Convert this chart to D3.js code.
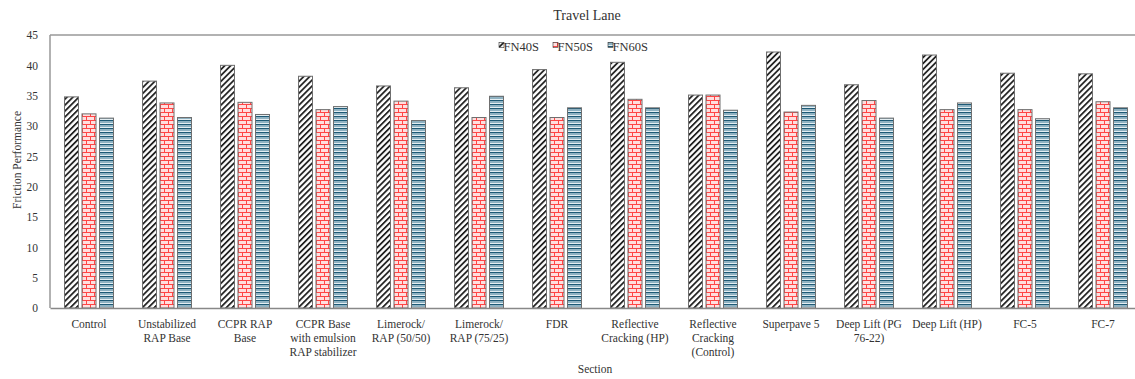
<!DOCTYPE html>
<html><head><meta charset="utf-8">
<script src="https://cdn.jsdelivr.net/npm/d3@7"></script>
<style>
html,body{margin:0;padding:0;background:#fff;overflow:hidden}
text{font-family:"Liberation Serif","Times New Roman",serif;fill:#333}
</style></head><body>
<svg id="chart" width="1135" height="379"></svg>
<script>
const categories = ["Control","Unstabilized RAP Base","CCPR RAP Base","CCPR Base with emulsion RAP stabilizer","Limerock/ RAP (50/50)","Limerock/ RAP (75/25)","FDR","Reflective Cracking (HP)","Reflective Cracking (Control)","Superpave 5","Deep Lift (PG 76-22)","Deep Lift (HP)","FC-5","FC-7"];
const categoryLines = [["Control"],["Unstabilized","RAP Base"],["CCPR RAP","Base"],["CCPR Base","with emulsion","RAP stabilizer"],["Limerock/","RAP (50/50)"],["Limerock/","RAP (75/25)"],["FDR"],["Reflective","Cracking (HP)"],["Reflective","Cracking","(Control)"],["Superpave 5"],["Deep Lift (PG","76-22)"],["Deep Lift (HP)"],["FC-5"],["FC-7"]];
const seriesNames = ["FN40S","FN50S","FN60S"];
const FN40S = [34.8,37.4,40.0,38.2,36.6,36.3,39.3,40.5,35.1,42.2,36.8,41.7,38.7,38.6];
const FN50S = [32.0,33.8,33.9,32.7,34.1,31.4,31.4,34.4,35.1,32.3,34.2,32.7,32.7,34.0];
const FN60S = [31.3,31.4,31.9,33.2,30.9,34.9,33.0,33.0,32.6,33.4,31.3,33.8,31.2,33.0];
const yTicks = [0,5,10,15,20,25,30,35,40,45];
const seriesValues = [FN40S, FN50S, FN60S];

const svg = d3.select("#chart");
const mLeft = 50, mRight = 1142, mTop = 35, mBottom = 308;

const defs = svg.append("defs");
// FN40S diagonal hatch
const p1 = defs.append("pattern").attr("id","pat0").attr("patternUnits","userSpaceOnUse")
  .attr("width",4.2).attr("height",4.2).attr("patternTransform","rotate(45)");
p1.append("rect").attr("width",4.2).attr("height",4.2).attr("fill","#fff");
p1.append("rect").attr("x",0).attr("y",0).attr("width",1.8).attr("height",4.2).attr("fill","#222");
// FN50S brick
const p2 = defs.append("pattern").attr("id","pat1").attr("patternUnits","userSpaceOnUse")
  .attr("width",8).attr("height",8);
p2.append("rect").attr("width",8).attr("height",8).attr("fill","#ffdede");
p2.append("rect").attr("x",0).attr("y",0).attr("width",8).attr("height",1).attr("fill","#ff4545");
p2.append("rect").attr("x",0).attr("y",4).attr("width",8).attr("height",1).attr("fill","#ff4545");
p2.append("rect").attr("x",0).attr("y",0).attr("width",1).attr("height",4).attr("fill","#ff4545");
p2.append("rect").attr("x",4).attr("y",4).attr("width",1).attr("height",4).attr("fill","#ff4545");
// FN60S horizontal stripes
const p3 = defs.append("pattern").attr("id","pat2").attr("patternUnits","userSpaceOnUse")
  .attr("width",4).attr("height",4);
p3.append("rect").attr("width",4).attr("height",4).attr("fill","#e4eef2");
p3.append("rect").attr("y",0).attr("width",4).attr("height",1).attr("fill","#1d5975");
p3.append("rect").attr("y",1).attr("width",4).attr("height",2).attr("fill","#8fb2c2");

const x0 = d3.scaleBand().domain(categories).range([mLeft,mRight]);
const x1 = d3.scaleBand().domain(seriesNames).range([14.5, 63.5]).paddingInner(0.2);
const y = d3.scaleLinear().domain([0,45]).range([mBottom, mTop]);

// frame
svg.append("line").attr("x1",mLeft).attr("x2",mRight).attr("y1",mTop).attr("y2",mTop).attr("stroke","#999").attr("stroke-width",1.5);
svg.append("line").attr("x1",mLeft).attr("x2",mLeft).attr("y1",mTop).attr("y2",mBottom).attr("stroke","#999").attr("stroke-width",1.5);

// y axis
const yAxis = d3.axisLeft(y).tickValues(yTicks).tickSize(0).tickPadding(12);
const ga = svg.append("g").attr("transform",`translate(${mLeft},0)`).call(yAxis);
ga.select(".domain").remove();
ga.selectAll("text").style("font-family","'Liberation Serif',serif").style("font-size","11.5px").attr("fill","#444");

// bars
const groups = svg.append("g").selectAll("g").data(categories).join("g")
  .attr("transform", d => `translate(${x0(d)},0)`);
groups.selectAll("rect").data((d,i) => seriesNames.map((s,j) => ({s, j, v: seriesValues[j][i]})))
  .join("rect")
  .attr("x", d => x1(d.s)).attr("width", x1.bandwidth())
  .attr("y", d => y(d.v)).attr("height", d => y(0) - y(d.v))
  .attr("fill", d => `url(#pat${d.j})`)
  .attr("stroke", "#6f6f6f").attr("stroke-width", 1);

// x axis
const xAxis = d3.axisBottom(x0).tickSize(0).tickFormat("");
const gx = svg.append("g").attr("transform",`translate(0,${mBottom})`).call(xAxis);
gx.select(".domain").attr("stroke","#888").attr("stroke-width",1.5);

// x labels
const lab = svg.append("g").selectAll("text").data(categories).join("text")
  .attr("x", d => x0(d) + x0.bandwidth()/2).attr("y", 328)
  .attr("text-anchor","middle").style("font-size","11.5px");
lab.each(function(d,i){
  const t = d3.select(this);
  categoryLines[i].forEach((ln,k) => t.append("tspan").attr("x", x0(d) + x0.bandwidth()/2).attr("dy", k===0?0:14.2).text(ln));
});

// titles
svg.append("text").attr("x",587).attr("y",20).attr("text-anchor","middle").style("font-size","14px").text("Travel Lane");
svg.append("text").attr("x",595).attr("y",373).attr("text-anchor","middle").style("font-size","11.5px").text("Section");
svg.append("text").attr("transform","translate(21,160) rotate(-90)").attr("text-anchor","middle").style("font-size","11.5px").text("Friction Performance");

// legend
const legendX = [499, 553, 608];
const lg = svg.append("g").selectAll("g").data(seriesNames).join("g")
  .attr("transform", (d,i) => `translate(${legendX[i]},46)`);
lg.append("rect").attr("x",0).attr("y",-3.5).attr("width",5).attr("height",5)
  .attr("fill",(d,i)=>`url(#pat${i})`).attr("stroke","#333").attr("stroke-width",0.6);
lg.append("text").attr("x",4.5).attr("y",4.5).style("font-size","12.5px").text(d=>d);
</script>
</body></html>
